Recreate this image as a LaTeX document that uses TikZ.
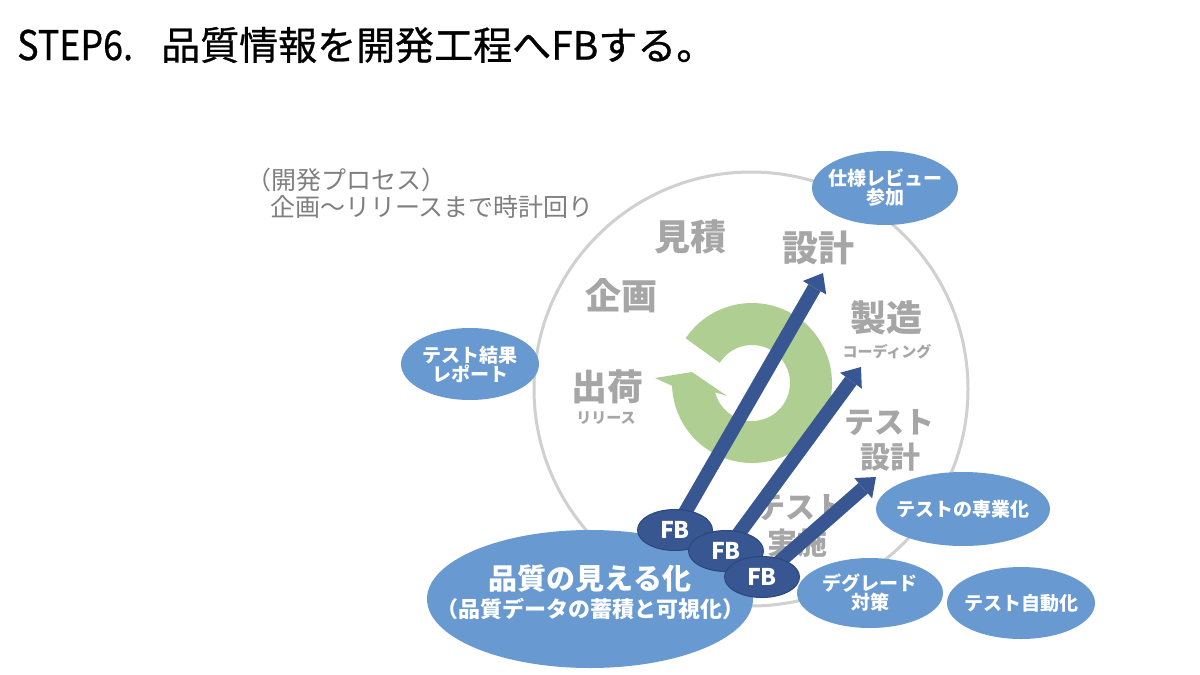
\documentclass[tikz,border=0pt]{standalone}
\usepackage{fontspec}
\setmainfont{Noto Sans CJK JP}
\newfontfamily\titlefont{Noto Sans CJK JP}[FakeBold=0.7]
\usetikzlibrary{shapes.geometric,arrows.meta}
\definecolor{lblgray}{RGB}{166,166,166}
\definecolor{notegray}{RGB}{127,127,127}
\definecolor{circgray}{RGB}{208,208,208}
\definecolor{ellblue}{RGB}{104,153,208}
\definecolor{fbblue}{RGB}{56,87,146}
\definecolor{fbdark}{RGB}{44,70,122}
\definecolor{ringgreen}{RGB}{174,206,146}
\pgfdeclarelayer{bg}
\pgfdeclarelayer{mid}
\pgfsetlayers{bg,mid,main}
\newcommand{\fs}[1]{\fontsize{#1}{#1}\selectfont}
\tikzset{
  titletxt/.style={anchor=west, inner sep=0pt, font=\titlefont\fs{39}},
  glbl/.style={text=lblgray, font=\bfseries\fs{36}, inner sep=0pt},
  glblm/.style={text=lblgray, font=\bfseries\fs{30}, inner sep=0pt},
  glbls/.style={text=lblgray, font=\bfseries\fs{15}, inner sep=0pt},
  note/.style={text=notegray, font=\fs{25}, inner sep=0pt, anchor=west},
  bell/.style={ellipse, fill=ellblue, draw=none, inner sep=0pt},
  wtxt/.style={text=white, font=\bfseries\fs{19}, align=center, inner sep=0pt},
  fbnode/.style={ellipse, fill=fbblue, draw=fbdark, line width=1pt, inner sep=0pt,
    minimum width=75pt, minimum height=41pt, text=white, font=\bfseries\fs{23}},
  fbarrow/.style={draw=fbblue, line width=14pt,
    -{Triangle[length=17pt,width=27pt,line width=0pt]}},
}
\begin{document}
\begin{tikzpicture}[x=1pt,y=-1pt]
\useasboundingbox (0,0) rectangle (1200,675);
\begin{pgfonlayer}{bg}
\fill[white] (0,0) rectangle (1200,675);
% title
\node[titletxt] (t1) at (17,45) {\scalebox{0.92}[1.05]{STEP6.}};
\node[titletxt] (t2) at (161,45) {品質情報を開発工程へFBする。};
% note
\node[note] (n1) at (246,180) {（開発プロセス）};
\node[note] (n2) at (270,207) {企画～リリースまで時計回り};
% big circle
\node[circle, draw=circgray, line width=3pt, minimum size=434pt, inner sep=0pt] (cyc) at (751,389) {};
% process labels
\node[glbl] (mitsu) at (690,237) {見積};
\node[glbl] (sekkei) at (818,248) {設計};
\node[glbl] (kikaku) at (621,296) {企画};
\node[glbl] (seizo) at (886,318) {製造};
\node[glbls] (coding) at (887,352) {コーディング};
\node[glbl] (shukka) at (607,387) {出荷};
\node[glbls] (release) at (606,418) {リリース};
\node[glblm] (tsd1) at (889,423) {テスト};
\node[glblm] (tsd2) at (890,457) {設計};
\node[glblm] (tj1) at (800,508) {テスト};
\node[glblm] (tj2) at (797,543) {実施};
% green circular arrow
\fill[ringgreen]
  plot[domain=-146:178, samples=90] ({752+80*cos(\x)},{383+80*sin(\x)})
  -- (655,378) -- (692,372) -- (727,396)
  -- plot[domain=166:-148, samples=90] ({752+38*cos(\x)},{383+38*sin(\x)})
  -- cycle;
% blue ellipses
\node[bell, minimum width=146pt, minimum height=74pt] (shiyo) at (885,188) {};
\node[wtxt] at (shiyo) {仕様レビュー\\参加};
\node[bell, minimum width=138pt, minimum height=72pt] (kekka) at (470,364) {};
\node[wtxt] at (kekka) {テスト結果\\レポート};
\node[bell, minimum width=174pt, minimum height=74pt] (sengyo) at (963,509) {};
\node[wtxt] at (sengyo) {テストの専業化};
\node[bell, minimum width=146pt, minimum height=70pt] (degu) at (870,593) {};
\node[wtxt] at (degu) {デグレード\\対策};
\node[bell, minimum width=148pt, minimum height=72pt] (jido) at (1021,603) {};
\node[wtxt] at (jido) {テスト自動化};
\node[bell, minimum width=326pt, minimum height=138pt] (mieru) at (590,599) {};
\node[text=white, font=\bfseries\fs{29}, inner sep=0pt] (mieru1) at (590,579) {品質の見える化};
\node[text=white, font=\bfseries\fs{22}, inner sep=0pt] (mieru2) at (590,609) {（品質データの蓄積と可視化）};
\end{pgfonlayer}
% FB nodes
\node[fbnode] (fb1) at (675,530) {FB};
\node[fbnode] (fb2) at (726,551) {FB};
\node[fbnode] (fb3) at (762,577) {FB};
\coordinate (a1) at (823,273);
\coordinate (a2) at (861,367);
\coordinate (a3) at (876,477);
\begin{pgfonlayer}{mid}
\draw[fbarrow] (fb1.center) -- (a1);
\draw[fbarrow] (fb2.center) -- (a2);
\draw[fbarrow] (fb3.center) -- (a3);
\end{pgfonlayer}
\end{tikzpicture}
\end{document}
